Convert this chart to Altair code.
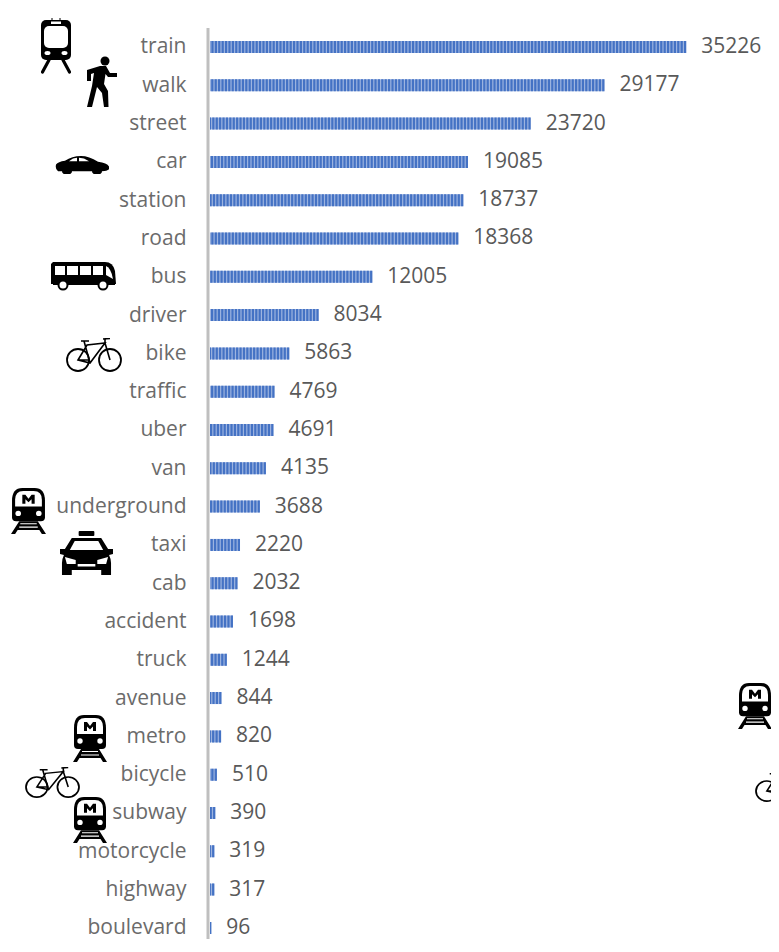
import base64
import altair as alt
import pandas as pd

categories = ["train", "walk", "street", "car", "station", "road", "bus", "driver", "bike", "traffic", "uber", "van",
              "underground", "taxi", "cab", "accident", "truck", "avenue", "metro", "bicycle", "subway", "motorcycle",
              "highway", "boulevard"]
values = [35226, 29177, 23720, 19085, 18737, 18368, 12005, 8034, 5863, 4769, 4691, 4135,
          3688, 2220, 2032, 1698, 1244, 844, 820, 510, 390, 319, 317, 96]

TRAIN = '''<svg xmlns="http://www.w3.org/2000/svg" viewBox="0 0 30 56">
<path d="M11 0V4M19 0V4" stroke="#000" stroke-width="1"/>
<rect x="0" y="2" width="30" height="40" rx="5"/>
<rect x="10" y="3.5" width="10" height="2.5" fill="#fff"/>
<rect x="3" y="8" width="24" height="22" rx="5" fill="#fff"/>
<ellipse cx="6.5" cy="35" rx="3" ry="2" fill="#fff"/><ellipse cx="23.5" cy="35" rx="3" ry="2" fill="#fff"/>
<path d="M8 42L1.5 54M22 42L28.5 54" stroke="#000" stroke-width="3.2" stroke-linecap="round" fill="none"/>
</svg>'''

WALK = '''<svg xmlns="http://www.w3.org/2000/svg" viewBox="0 0 30 51">
<circle cx="18" cy="5" r="4.5"/>
<path d="M0 14L13 10H19L23 17H30V21H21L18.5 18L17 28L21 35L21.5 51H17L15 37L10 31L5 51H0L5 30L7 17L4 18V25H0Z"/>
</svg>'''

CAR = '''<svg xmlns="http://www.w3.org/2000/svg" viewBox="0 0 54 20">
<path d="M1 10Q3 7 10 6Q17 1 26 1Q34 1 43 7Q52 8 54 12V15Q52 17 47 17A5 4 0 0 1 37 17H17A5 4 0 0 1 7 17H3Q0 15 1 10Z"/>
<path d="M14 6.5Q18 3 22 3V6.5ZM24 3Q29 3 34 6.5H24Z" fill="#fff"/>
</svg>'''

BUS = '''<svg xmlns="http://www.w3.org/2000/svg" viewBox="0 0 65 30">
<path d="M2 1H54Q62 1 64 10L65 23H0V3Z"/>
<rect x="2" y="22" width="62" height="2"/>
<rect x="4" y="5" width="10" height="9" fill="#fff"/><rect x="16" y="5" width="11" height="9" fill="#fff"/>
<rect x="29" y="5" width="11" height="9" fill="#fff"/><rect x="42" y="5" width="10" height="9" fill="#fff"/>
<path d="M55 5Q60 7 62 18L55 14Z" fill="#fff"/>
<circle cx="12" cy="24" r="4.5" fill="#fff" stroke="#000" stroke-width="2"/>
<circle cx="52" cy="24" r="4.5" fill="#fff" stroke="#000" stroke-width="2"/>
</svg>'''

BIKE = '''<svg xmlns="http://www.w3.org/2000/svg" viewBox="0 0 56 34">
<g fill="none" stroke="#000" stroke-width="1.8">
<circle cx="12" cy="22" r="11"/><circle cx="44" cy="22" r="11"/>
</g>
<g fill="none" stroke="#000" stroke-width="1.6">
<path d="M12 22L21 7L39 5L24 25Z M12 22H24M18 3L24 25M39 5L44 22M15 3H23M37 1L44 0.5"/>
<path d="M39 1V5"/>
</g>
</svg>'''

METRO = '''<svg xmlns="http://www.w3.org/2000/svg" viewBox="0 0 34 48">
<path d="M1 31V14Q1 1 11 1H23Q33 1 33 14V31Q33 35 29 35H5Q1 35 1 31Z"/>
<path d="M4 20V13Q4 4 12 4H22Q30 4 30 13V20Z" fill="#fff"/>
<path d="M11 17V8H14L17 12L20 8H23V17H20V12.5L17 15.5L14 12.5V17Z"/>
<circle cx="7" cy="27" r="2.7" fill="#fff"/><circle cx="27" cy="27" r="2.7" fill="#fff"/>
<path d="M0 48L8 35H26L34 48H30L27.5 44H6.5L4 48Z"/>
<path d="M9 37.5H25M8 41H26" stroke="#fff" stroke-width="1.2"/>
</svg>'''

TAXI = '''<svg xmlns="http://www.w3.org/2000/svg" viewBox="0 0 54 44">
<rect x="19" y="0" width="16" height="5" rx="1"/>
<path d="M12 7H42L49 18H54V23L50 24Q52 28 52 32V44H42V39H12V44H2V32Q2 28 4 24L0 23V18H5Z"/>
<path d="M15 10H39L44 19H10Z" fill="#fff"/>
<path d="M5 26L16 29V33H7Z M49 26L38 29V33H47Z" fill="#fff"/>
<rect x="18" y="33" width="18" height="2.5" fill="#fff"/>
</svg>'''

# icon: svg, page-left, page-top, page-width, page-height
icons = [
    (TRAIN, 41, 18, 30, 56),
    (WALK, 87, 56, 30, 51),
    (CAR, 55, 155, 54, 19),
    (BUS, 51, 261, 65, 30),
    (BIKE, 66, 338, 56, 34),
    (METRO, 11, 487, 35, 47),
    (TAXI, 60, 531, 53, 44),
    (METRO, 73, 714, 34, 48),
    (BIKE, 25, 767, 55, 31),
    (METRO, 73, 796, 34, 47),
    (METRO, 738, 682, 34, 47),
    (BIKE, 755, 771, 55, 31),
]

PAD_L, PAD_T = 202, 20
PLOT_W, PLOT_H = 561, 911
df = pd.DataFrame({"term": categories, "count": values})

y = alt.Y("term:N", sort=categories, title=None,
          scale=alt.Scale(type="point", padding=0.393, align=0.631),
          axis=alt.Axis(domain=False, ticks=False, grid=False, labelPadding=24, labelFont="Open Sans",
                        labelFontSize=21, labelColor="#6b6b6b", labelLimit=200))
x = alt.X("count:Q", title=None, axis=None, scale=alt.Scale(domain=[0, 41500], nice=False))

base = alt.Chart(df).encode(y=y, x=x)
light = base.mark_rule(color="#9db4e0", strokeWidth=12).encode(x2=alt.value(0))
dark = base.mark_rule(color="#4472c4", strokeWidth=12, strokeDash=[2.2, 1.2]).encode(x2=alt.value(0))
text = base.mark_text(align="left", baseline="middle", dx=15, font="Open Sans", fontSize=21,
                      color="#595959").encode(text=alt.Text("count:Q", format="d"))

one = pd.DataFrame({"a": [0]})
axis_line = alt.Chart(one).mark_rule(color="#bfbfbf", strokeWidth=3).encode(
    x=alt.value(-2), y=alt.value(0), y2=alt.value(PLOT_H))

layers = [axis_line, light, dark, text]
for svg, left, top, w, h in icons:
    url = "data:image/svg+xml;base64," + base64.b64encode(svg.encode()).decode()
    layers.append(alt.Chart(one).mark_image(url=url, width=w, height=h, aspect=False).encode(
        x=alt.value(left + w / 2 - 8 - PAD_L), y=alt.value(top + h / 2 - 8 - PAD_T)))

chart = alt.layer(*layers).properties(
    width=PLOT_W, height=PLOT_H,
    padding={"left": PAD_L, "top": PAD_T, "right": 0, "bottom": 0},
    autosize=alt.AutoSizeParams(type="none"),
).configure_view(stroke=None)

chart.save("out.html", embed_options={"renderer": "svg", "actions": False})
